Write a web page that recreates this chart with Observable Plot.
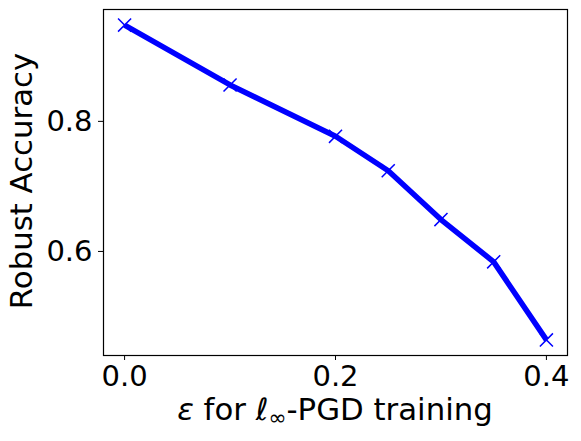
<!DOCTYPE html>
<html><head><meta charset="utf-8">
<script src="https://cdn.jsdelivr.net/npm/d3@7"></script>
<script src="https://cdn.jsdelivr.net/npm/@observablehq/plot@0.6"></script>
<style>body{margin:0;background:white;} svg{display:block;}</style>
</head><body><div id="chart"></div>
<script>
const epsilons = [0.0, 0.1, 0.2, 0.25, 0.3, 0.35, 0.4];
const robustAccuracy = [0.948, 0.856, 0.777, 0.724, 0.649, 0.584, 0.464];
const xTicks = [0.0, 0.2, 0.4];
const yTicks = [0.6, 0.8];
const yLabel = "Robust Accuracy";

const data = epsilons.map((e, i) => ({eps: e, acc: robustAccuracy[i]}));
const FS = 29;
const LFS = 30.8;
const chart = Plot.plot({
  width: 581, height: 441,
  marginLeft: 103, marginRight: 14, marginTop: 9, marginBottom: 86,
  style: {fontFamily: "DejaVu Sans", fontSize: FS + "px", background: "white", color: "black", overflow: "visible"},
  x: {domain: [-0.02, 0.42]},
  y: {domain: [0.44, 0.972]},
  marks: [
    Plot.axisX({ticks: xTicks, tickFormat: d3.format(".1f"), tickSize: 5, tickPadding: 5, fontSize: FS, label: null, stroke: "black", strokeOpacity: 1}),
    Plot.axisY({ticks: yTicks, tickFormat: d3.format(".1f"), tickSize: 5, tickPadding: 6, fontSize: FS, label: null, stroke: "black", strokeOpacity: 1}),
    Plot.line(data, {x: "eps", y: "acc", stroke: "blue", strokeWidth: 5.5, strokeLinejoin: "miter", strokeLinecap: "butt"}),
    Plot.dot(data, {x: "eps", y: "acc", symbol: "times", r: 6, stroke: "blue", strokeWidth: 1.5}),
    Plot.frame({stroke: "black", strokeWidth: 1.2})
  ]
});
document.getElementById("chart").appendChild(chart);

const svg = d3.select(chart);
// y axis label
svg.append("text")
  .attr("transform", "translate(32,181) rotate(-90)")
  .attr("text-anchor", "middle")
  .attr("font-family", "DejaVu Sans")
  .attr("font-size", LFS)
  .attr("fill", "black")
  .text(yLabel);
// x axis label with math styling
const xl = svg.append("text")
  .attr("x", 335).attr("y", 420)
  .attr("text-anchor", "middle")
  .attr("font-family", "DejaVu Sans")
  .attr("font-size", LFS)
  .attr("fill", "black");
xl.append("tspan").attr("font-style", "italic").text("ε");
xl.append("tspan").text(" for ");
xl.append("tspan").attr("font-style", "italic").text("ℓ");
xl.append("tspan").attr("font-size", LFS * 0.7).attr("dy", 5).text("∞");
xl.append("tspan").attr("dy", -5).text("-PGD training");
</script>
</body></html>
